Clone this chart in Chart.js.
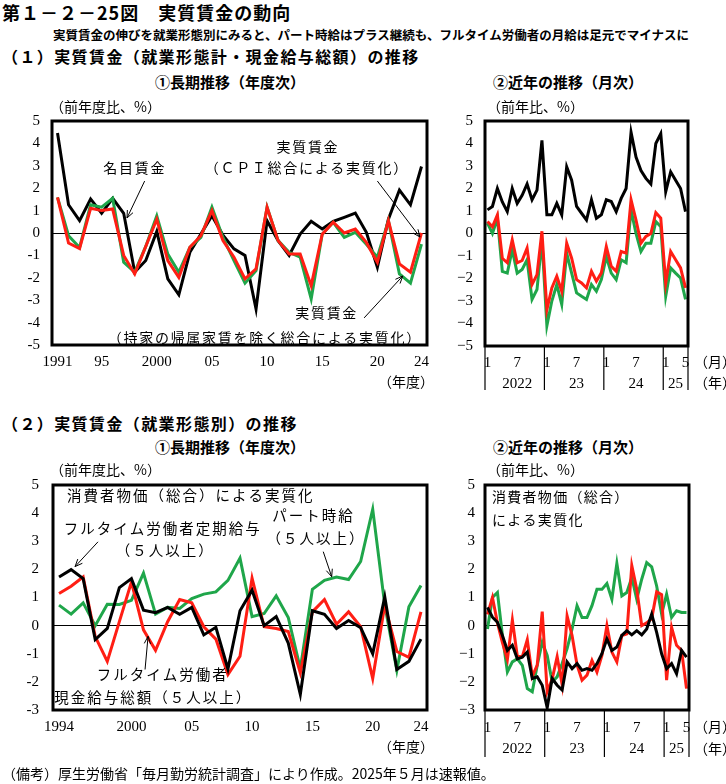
<!DOCTYPE html>
<html lang="ja">
<head>
<meta charset="utf-8">
<script src="https://cdn.jsdelivr.net/npm/chart.js@4.4.1/dist/chart.umd.min.js"></script>
<style>
  body { margin: 0; width: 726px; height: 784px; background: #fff; position: relative; overflow: hidden; }
  canvas { position: absolute; }
  .t { position: absolute; white-space: nowrap; color: #000; line-height: 1; font-family: "Noto Sans CJK JP", sans-serif; }
  .b { font-weight: 700; }
</style>
</head>
<body>
<canvas id="c1" width="440" height="285" style="left:0;top:96px"></canvas>
<canvas id="c2" width="286" height="305" style="left:440px;top:96px"></canvas>
<canvas id="c3" width="440" height="290" style="left:0;top:460px"></canvas>
<canvas id="c4" width="286" height="305" style="left:440px;top:460px"></canvas>

<div class="t b" style="left:2px;top:3px;font-size:18px;letter-spacing:1px">第１－２－25図　実質賃金の動向</div>
<div class="t b" style="left:53px;top:29px;font-size:12.5px">実質賃金の伸びを就業形態別にみると、パート時給はプラス継続も、フルタイム労働者の月給は足元でマイナスに</div>
<div class="t b" style="left:2px;top:48px;font-size:16px;letter-spacing:1.4px">（１）実質賃金（就業形態計・現金給与総額）の推移</div>
<div class="t b" style="left:155px;top:74px;font-size:15px">①長期推移（年度次）</div>
<div class="t b" style="left:493px;top:74px;font-size:15px">②近年の推移（月次）</div>
<div class="t" style="left:50px;top:99px;font-size:14px">（前年度比、%）</div>
<div class="t" style="left:487px;top:99px;font-size:14px">（前年比、%）</div>
<div class="t" style="left:378px;top:374px;font-size:14px">（年度）</div>
<div class="t" style="left:694px;top:354px;font-size:14px">（月）</div>
<div class="t" style="left:694px;top:375px;font-size:14px">（年）</div>

<div class="t b" style="left:2px;top:415px;font-size:16px;letter-spacing:1.4px">（２）実質賃金（就業形態別）の推移</div>
<div class="t b" style="left:155px;top:439px;font-size:15px">①長期推移（年度次）</div>
<div class="t b" style="left:493px;top:439px;font-size:15px">②近年の推移（月次）</div>
<div class="t" style="left:50px;top:462px;font-size:14px">（前年度比、%）</div>
<div class="t" style="left:487px;top:462px;font-size:14px">（前年比、%）</div>
<div class="t" style="left:378px;top:739px;font-size:14px">（年度）</div>
<div class="t" style="left:694px;top:719px;font-size:14px">（月）</div>
<div class="t" style="left:694px;top:741px;font-size:14px">（年）</div>
<div class="t" style="left:2px;top:766px;font-size:14px">（備考）厚生労働省「毎月勤労統計調査」により作成。2025年５月は速報値。</div>

<script>
// ---- データ ----
// (1)① 年度次 1991〜2024
const fiscalYears1 = [1991, 1992, 1993, 1994, 1995, 1996, 1997, 1998, 1999, 2000, 2001, 2002, 2003, 2004, 2005, 2006, 2007,
    2008, 2009, 2010, 2011, 2012, 2013, 2014, 2015, 2016, 2017, 2018, 2019, 2020, 2021, 2022, 2023, 2024];
const nominalWageFy = [4.46, 1.26, 0.55, 1.52, 0.88, 1.55, 0.88, -1.75, -1.23, 0.07, -2.05, -2.76, -0.86, -0.05, 0.77, -0.1, -0.71,
    -1.0, -3.39, 0.55, -0.34, -1.0, -0.05, 0.52, 0.18, 0.52, 0.7, 0.89, 0.03, -1.53, 0.62, 1.92, 1.26, 2.97];
const realWageCpiFy = [1.59, -0.45, -0.7, 1.1, 1.0, 1.07, -1.0, -1.83, -0.6, 0.62, -1.23, -1.98, -0.64, -0.12, 1.0, -0.34, -1.08,
    -2.05, -1.6, 1.15, -0.34, -0.94, -0.94, -2.35, -0.05, 0.48, 0.0, 0.18, -0.42, -1.31, 0.55, -1.38, -1.75, 0.0];
const realWageExRentFy = [1.59, -0.12, -0.65, 1.26, 1.15, 1.55, -1.3, -1.75, -0.6, 0.77, -0.94, -1.75, -0.64, -0.2, 1.15, -0.2, -1.23,
    -2.24, -1.68, 1.15, -0.34, -0.86, -1.08, -2.94, -0.05, 0.48, -0.2, 0.03, -0.5, -1.08, 0.55, -1.83, -2.24, -0.5];
const tickYears1 = [1991, 1995, 2000, 2005, 2010, 2015, 2020, 2024];
const tickText1 = ['1991', '95', '2000', '05', '10', '15', '20', '24'];

// 月次 2022年1月〜2025年5月
const months = [1, 2, 3, 4, 5, 6, 7, 8, 9, 10, 11, 12,
    1, 2, 3, 4, 5, 6, 7, 8, 9, 10, 11, 12,
    1, 2, 3, 4, 5, 6, 7, 8, 9, 10, 11, 12,
    1, 2, 3, 4, 5];
const monthTicks = [1, 7];
const yearRowIndex = [6, 18, 30, 38];
const yearRowText = ['2022', '23', '24', '25'];

// (1)② 月次
const nominalWageM = [1.05, 1.2, 2.0, 1.4, 0.97, 2.0, 1.34, 1.7, 2.2, 1.5, 1.93, 4.14,
    0.83, 0.83, 1.34, 0.83, 2.96, 2.37, 1.2, 0.9, 0.6, 1.5, 0.68, 0.83,
    1.5, 1.42, 0.97, 1.56, 2.0, 4.5, 3.4, 2.8, 2.45, 2.2, 4.0, 4.44,
    1.86, 2.74, 2.37, 2.0, 0.97];
const realWageCpiM = [0.53, 0.3, 0.83, -1.1, -1.3, -0.28, -1.3, -1.2, -0.65, -2.27, -1.83, 0.1,
    -3.38, -2.42, -1.9, -2.57, -0.43, -1.1, -2.05, -2.2, -2.42, -1.68, -2.12, -1.75,
    -0.58, -1.46, -1.68, -0.8, -0.87, 1.5, 0.6, -0.43, -0.13, 0.0, 0.93, 0.68,
    -2.2, -0.8, -1.17, -1.53, -2.42];
const realWageExRentM = [0.46, 0.0, 0.68, -1.68, -1.76, -0.72, -1.76, -1.6, -1.17, -2.93, -2.49, -0.28,
    -4.1, -3.0, -2.27, -3.15, -0.87, -1.76, -2.64, -2.79, -2.93, -2.27, -2.57, -2.05,
    -1.02, -1.76, -2.05, -1.17, -1.3, 1.05, 0.0, -0.8, -0.43, -0.43, 0.53, 0.3,
    -2.79, -1.53, -1.76, -1.98, -2.93];

// (2)① 年度次 1994〜2024
const fiscalYears2 = [1994, 1995, 1996, 1997, 1998, 1999, 2000, 2001, 2002, 2003, 2004, 2005, 2006, 2007, 2008, 2009,
    2010, 2011, 2012, 2013, 2014, 2015, 2016, 2017, 2018, 2019, 2020, 2021, 2022, 2023, 2024];
const fullTimeBaseFy = [1.73, 1.99, 1.67, -0.5, -0.1, 1.35, 1.67, 0.55, 0.46, 0.65, 0.4, 0.65, -0.33, -0.06, -1.54, 0.53,
    1.26, 0.0, 0.32, -0.62, -2.45, 0.53, 0.4, -0.1, 0.18, -0.07, -1.0, 1.02, -1.56, -1.27, -0.48];
const fullTimeTotalFy = [1.14, 1.4, 1.73, -0.39, -1.27, 0.14, 1.55, -0.15, -0.88, 0.14, 0.93, 0.81, -0.04, -0.48, -1.74, -1.09,
    1.69, -0.04, -0.1, -0.21, -1.68, 0.49, 0.93, 0.05, 0.49, -0.04, -1.88, 0.73, -0.92, -1.13, 0.49];
const partHourlyFy = [0.73, 0.41, 0.81, 0.0, 0.76, 0.75, 0.9, 1.87, 0.41, 0.65, 0.61, 0.96, 1.12, 1.2, 1.61, 2.4,
    0.32, 0.43, 1.06, 0.29, -1.53, 1.29, 1.61, 1.73, 1.64, 2.28, 4.14, 0.73, -1.59, 0.67, 1.43];
const tickYears2 = [1994, 2000, 2005, 2010, 2015, 2020, 2024];
const tickText2 = ['1994', '2000', '05', '10', '15', '20', '24'];

// (2)② 月次
const fullTimeBaseM = [0.65, 0.3, 0.12, -0.35, -0.88, -0.7, -1.18, -1.12, -0.94, -1.88, -1.82, -2.12,
    -2.92, -1.88, -2.12, -2.29, -1.29, -1.53, -1.35, -1.59, -1.53, -1.59, -1.35, -1.0,
    -0.47, -0.88, -0.76, -0.35, -0.18, -0.33, -0.18, -0.33, -0.12, 0.41, -0.24, -1.0,
    -1.53, -1.35, -1.71, -0.88, -1.12];
const fullTimeTotalM = [0.4, 1.0, 0.1, -0.6, -1.2, 0.2, -1.1, -1.1, -0.5, -1.8, -1.4, 0.5,
    -2.35, -1.9, -1.1, -2.1, 0.35, -0.35, -1.4, -1.94, -1.76, -1.24, -1.65, -1.06,
    0.0, -0.94, -1.29, -0.35, -0.29, 2.14, 1.29, 0.0, 0.1, 0.25, 1.2, 1.1,
    -1.94, -0.06, -0.7, -0.88, -2.24];
const partHourlyM = [-0.12, 1.0, 1.18, -0.35, -1.65, -1.29, -1.18, -1.41, -2.24, -2.35, -1.41, -0.59,
    -1.06, -2.0, -1.82, -1.35, -0.82, -0.12, 0.71, 0.29, 0.29, 0.71, 1.29, 1.29,
    1.5, 0.94, 2.21, 1.06, 1.18, 1.71, 0.94, 1.65, 2.24, 2.09, 1.41, 0.41,
    1.12, 0.29, 0.53, 0.47, 0.47];

// ---- 共通設定 ----
const SERIF = '"Liberation Serif", "DejaVu Serif", serif';
const JP = '"Noto Sans CJK JP", sans-serif';
const RED = '#ff1e14';
const GREEN = '#1fa64a';
const BLACK = '#000000';
const TOP_PAD = 25; // 上端の余白（目盛ラベル分より大きくしておく）

// 枠線（太線）
const boxPlugin = {
    id: 'box',
    afterDraw(chart) {
        const { ctx, chartArea: a } = chart;
        ctx.save();
        ctx.lineWidth = 3;
        ctx.strokeStyle = '#000';
        ctx.strokeRect(a.left, a.top, a.right - a.left, a.bottom - a.top);
        ctx.restore();
    }
};

// 月次グラフの年区切り線
const sepPlugin = {
    id: 'seps',
    afterDraw(chart, args, opts) {
        if (!opts || !opts.length) return;
        const { ctx, chartArea: a, scales: { x } } = chart;
        const labels = chart.data.labels;
        const xs = [];
        labels.forEach((m, i) => { if (m === 1) xs.push(x.getPixelForValue(i - 0.5)); });
        xs.push(x.getPixelForValue(labels.length - 0.5));
        ctx.save();
        ctx.strokeStyle = '#000';
        ctx.lineWidth = 1.2;
        xs.forEach(px => {
            ctx.beginPath();
            ctx.moveTo(px, a.bottom);
            ctx.lineTo(px, a.bottom + opts.length);
            ctx.stroke();
        });
        ctx.restore();
    }
};

// 注記テキストと矢印（データ座標で指定）
const notesPlugin = {
    id: 'notes',
    afterDatasetsDraw(chart, args, opts) {
        if (!opts || !opts.items) return;
        const { ctx, scales: { x, y } } = chart;
        ctx.save();
        ctx.fillStyle = '#000';
        ctx.strokeStyle = '#000';
        ctx.font = opts.font;
        ctx.letterSpacing = opts.spacing || '0px';
        ctx.textBaseline = 'middle';
        opts.items.forEach(n => {
            ctx.textAlign = n.align || 'center';
            ctx.fillText(n.text, x.getPixelForValue(n.x), y.getPixelForValue(n.y));
        });
        ctx.lineWidth = 1;
        (opts.arrows || []).forEach(ar => {
            const x1 = x.getPixelForValue(ar[0]), y1 = y.getPixelForValue(ar[1]);
            const x2 = x.getPixelForValue(ar[2]), y2 = y.getPixelForValue(ar[3]);
            const ang = Math.atan2(y2 - y1, x2 - x1);
            ctx.beginPath();
            ctx.moveTo(x1, y1);
            ctx.lineTo(x2, y2);
            ctx.moveTo(x2 - 8 * Math.cos(ang - 0.4), y2 - 8 * Math.sin(ang - 0.4));
            ctx.lineTo(x2, y2);
            ctx.lineTo(x2 - 8 * Math.cos(ang + 0.4), y2 - 8 * Math.sin(ang + 0.4));
            ctx.stroke();
        });
        ctx.restore();
    }
};

function lineSet(data, color) {
    return { data, borderColor: color, borderWidth: 3, pointRadius: 0, tension: 0, fill: false };
}

function yScale(min, max, width, pad, minus) {
    return {
        min, max,
        afterFit: s => { s.width = width; },
        ticks: {
            stepSize: 1, color: '#000', padding: pad,
            font: { family: SERIF, size: 15 },
            callback: v => (v < 0 ? minus + Math.abs(v) : String(v))
        },
        grid: {
            drawTicks: false, lineWidth: 1,
            color: c => (c.tick && c.tick.value === 0 ? '#000' : 'rgba(0,0,0,0)')
        },
        border: { display: false }
    };
}

function xCategory(height, pad, callback, lineHeight) {
    return {
        type: 'category', offset: true,
        afterFit: s => { s.height = height; },
        grid: { display: false, drawTicks: false }, border: { display: false },
        ticks: {
            autoSkip: false, maxRotation: 0, minRotation: 0, padding: pad, color: '#000',
            font: { family: SERIF, size: 15, lineHeight: lineHeight || 1.2 }, callback
        }
    };
}

function makeChart(id, cfg) {
    return new Chart(document.getElementById(id), {
        type: 'line',
        data: { labels: cfg.labels, datasets: cfg.datasets },
        options: {
            responsive: false, animation: false, events: [],
            layout: { padding: { top: TOP_PAD, right: cfg.padRight, left: 0, bottom: 0 } },
            plugins: {
                legend: { display: false }, tooltip: { enabled: false },
                notes: cfg.notes || {}, seps: cfg.seps || {}
            },
            scales: { y: cfg.y, x: cfg.x }
        },
        plugins: [boxPlugin, sepPlugin, notesPlugin]
    });
}

const yearTick = (years, ticks, texts) => (v, i) => {
    const k = ticks.indexOf(years[i]);
    return k >= 0 ? texts[k] : '';
};
// 月（上段）と年（下段）の2段ラベル
const monthYearTick = (v, i) => {
    const m = monthTicks.includes(months[i]) || i === months.length - 1 ? String(months[i]) : '';
    const k = yearRowIndex.indexOf(i);
    return [m, k >= 0 ? yearRowText[k] : ''];
};

// (1)① 長期推移
makeChart('c1', {
    labels: fiscalYears1,
    datasets: [lineSet(realWageCpiFy, RED), lineSet(realWageExRentFy, GREEN), lineSet(nominalWageFy, BLACK)],
    padRight: 13,
    y: yScale(-5, 5, 52, 12, '-'),
    x: xCategory(36, 8, yearTick(fiscalYears1, tickYears1, tickText1)),
    notes: {
        font: '14px ' + JP, spacing: '1.7px',
        items: [
            { text: '名目賃金', x: 7.0, y: 2.9 },
            { text: '実質賃金', x: 22.7, y: 3.84 },
            { text: '（ＣＰＩ総合による実質化）', x: 22.6, y: 2.9 },
            { text: '実質賃金', x: 24.4, y: -3.57 },
            { text: '（持家の帰属家賃を除く総合による実質化）', x: 18.8, y: -4.69 }
        ],
        arrows: [
            [7.9, 2.32, 6.3, 0.67],
            [29.0, 2.32, 32.86, -0.18],
            [27.8, -3.79, 31.3, -1.92]
        ]
    }
});

// (1)② 近年の推移
makeChart('c2', {
    labels: months,
    datasets: [lineSet(realWageCpiM, RED), lineSet(realWageExRentM, GREEN), lineSet(nominalWageM, BLACK)],
    padRight: 38,
    y: yScale(-5, 5, 45, 12, '−'),
    x: xCategory(55, 7, monthYearTick, 1.4),
    seps: { length: 44 }
});

// (2)① 長期推移
makeChart('c3', {
    labels: fiscalYears2,
    datasets: [lineSet(fullTimeBaseFy, BLACK), lineSet(fullTimeTotalFy, RED), lineSet(partHourlyFy, GREEN)],
    padRight: 13,
    y: yScale(-3, 5, 53, 14, '-'),
    x: xCategory(40, 8, yearTick(fiscalYears2, tickYears2, tickText2)),
    notes: {
        font: '14.5px ' + JP, spacing: '2px',
        items: [
            { text: '消費者物価（総合）による実質化', x: 0.66, y: 4.64, align: 'left' },
            { text: 'フルタイム労働者定期給与', x: 8.6, y: 3.46 },
            { text: '（５人以上）', x: 8.8, y: 2.67 },
            { text: 'パート時給', x: 21.1, y: 3.93 },
            { text: '（５人以上）', x: 21.3, y: 3.1 },
            { text: 'フルタイム労働者', x: 8.6, y: -1.74 },
            { text: '現金給与総額（５人以上）', x: 7.8, y: -2.57 }
        ],
        arrows: [
            [3.23, 2.98, 1.33, 2.1],
            [21.9, 2.63, 22.6, 1.74],
            [7.13, -1.56, 7.38, -0.38]
        ]
    }
});

// (2)② 近年の推移
makeChart('c4', {
    labels: months,
    datasets: [lineSet(fullTimeBaseM, BLACK), lineSet(fullTimeTotalM, RED), lineSet(partHourlyM, GREEN)],
    padRight: 37,
    y: yScale(-3, 5, 45, 10, '−'),
    x: xCategory(55, 8, monthYearTick, 1.4),
    seps: { length: 47 },
    notes: {
        font: '14px ' + JP, spacing: '1.3px',
        items: [
            { text: '消費者物価（総合）', x: 0.9, y: 4.6, align: 'left' },
            { text: 'による実質化', x: 0.9, y: 3.75, align: 'left' }
        ]
    }
});
</script>
</body>
</html>
